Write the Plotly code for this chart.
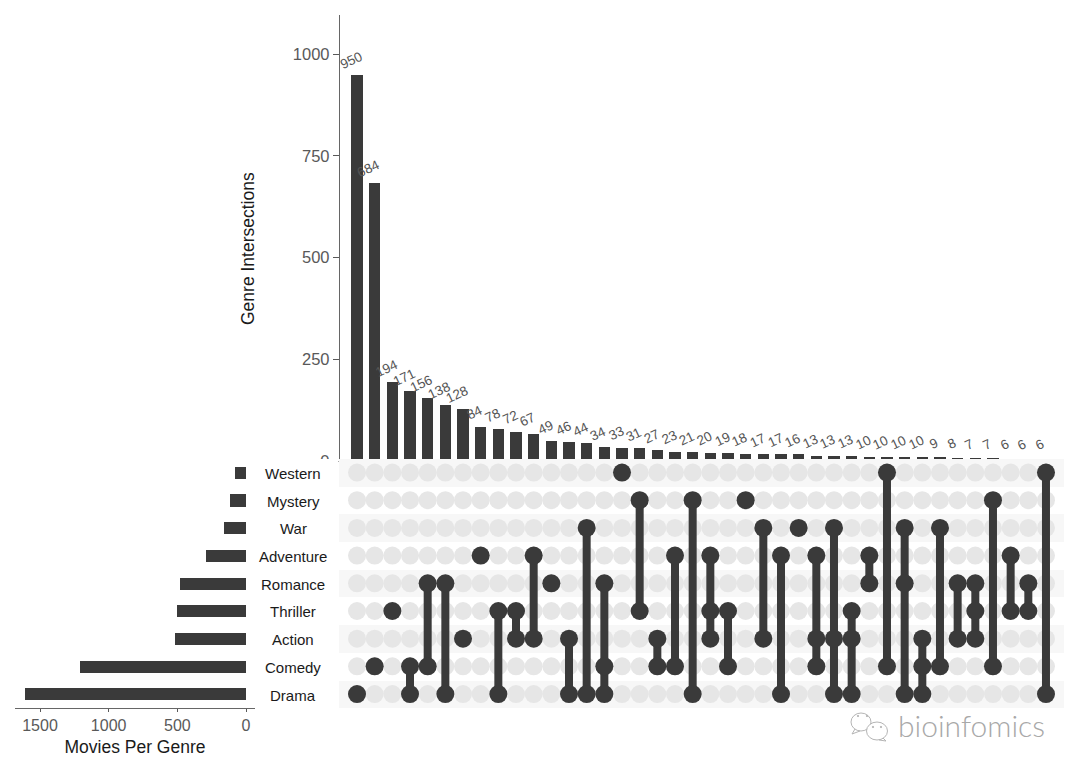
import plotly.graph_objects as go

W, H = 1080, 772

genres = ["Drama", "Comedy", "Action", "Thriller", "Romance", "Adventure", "War", "Mystery", "Western"]
genre_totals = [1611, 1207, 517, 505, 480, 294, 160, 116, 80]
striped_genres = ["Drama", "Action", "Romance", "War", "Western"]

intersection_sizes = [950, 684, 194, 171, 156, 138, 128, 84, 78, 72, 67, 49, 46, 44, 34, 33, 31, 27, 23, 21,
                      20, 19, 18, 17, 17, 16, 13, 13, 13, 10, 10, 10, 10, 9, 8, 7, 7, 6, 6, 6]
intersection_sets = [
    ["Drama"], ["Comedy"], ["Thriller"], ["Comedy", "Drama"], ["Romance", "Comedy"],
    ["Romance", "Drama"], ["Action"], ["Adventure"], ["Thriller", "Drama"], ["Thriller", "Action"],
    ["Adventure", "Action"], ["Romance"], ["Action", "Drama"], ["War", "Drama"],
    ["Romance", "Comedy", "Drama"], ["Western"], ["Mystery", "Thriller"], ["Action", "Comedy"],
    ["Adventure", "Comedy"], ["Mystery", "Drama"], ["Adventure", "Thriller", "Action"],
    ["Thriller", "Comedy"], ["Mystery"], ["War", "Action"], ["Adventure", "Drama"], ["War"],
    ["Adventure", "Action", "Comedy"], ["War", "Action", "Drama"], ["Thriller", "Action", "Drama"],
    ["Adventure", "Romance"], ["Western", "Comedy"], ["War", "Romance", "Drama"],
    ["Action", "Comedy", "Drama"], ["War", "Comedy"], ["Romance", "Action"],
    ["Romance", "Thriller", "Action"], ["Mystery", "Comedy"], ["Adventure", "Thriller"],
    ["Romance", "Thriller"], ["Western", "Drama"],
]

DARK = "#3a3a3a"
GREY_DOT = "#e6e6e6"
STRIPE = "#f7f7f7"
FONT = "Liberation Sans"
n = len(intersection_sizes)
columns = list(range(n))
x_range = [-1.02, n - 1 + 1.02]


def xdom(a, b):
    return [a / W, b / W]


def ydom(top, bottom):
    return [1 - bottom / H, 1 - top / H]


fig = go.Figure()

fig.add_trace(go.Bar(x=columns, y=intersection_sizes, width=0.64, marker=dict(color=DARK, line_width=0),
                     xaxis="x", yaxis="y", showlegend=False))

fig.add_trace(go.Bar(y=striped_genres, x=[x_range[1] - x_range[0]] * len(striped_genres), base=x_range[0],
                     orientation="h", width=1, marker=dict(color=STRIPE, line_width=0),
                     xaxis="x2", yaxis="y2", showlegend=False))

fig.add_trace(go.Scatter(x=[c for c in columns for _ in genres], y=[g for _ in columns for g in genres],
                         mode="markers", marker=dict(size=18, color=GREY_DOT), xaxis="x2", yaxis="y2",
                         showlegend=False))

lx, ly = [], []
for c, members in zip(columns, intersection_sets):
    ordered = sorted(members, key=genres.index)
    for g in ordered:
        lx.append(c)
        ly.append(g)
    lx.append(None)
    ly.append(None)
fig.add_trace(go.Scatter(x=lx, y=ly, mode="lines+markers", connectgaps=False,
                         line=dict(color=DARK, width=8), marker=dict(size=18, color=DARK),
                         xaxis="x2", yaxis="y2", showlegend=False))

fig.add_trace(go.Bar(y=genres, x=genre_totals, orientation="h", width=0.44,
                     marker=dict(color=DARK, line_width=0), xaxis="x3", yaxis="y3", showlegend=False))

annotations = []
for c, v in zip(columns, intersection_sizes):
    annotations.append(dict(x=c, y=v, xref="x", yref="y", text=str(v), showarrow=False, textangle=-25,
                            xshift=-6, yshift=14, font=dict(family=FONT, size=13.5, color="#555555")))
for g in genres:
    annotations.append(dict(x=293 / W, y=g, xref="paper", yref="y3", text=g, showarrow=False, xanchor="center",
                            yshift=-1, font=dict(family=FONT, size=15, color="#1a1a1a")))
annotations.append(dict(x=248 / W, y=1 - 249 / H, xref="paper", yref="paper", text="Genre Intersections",
                        showarrow=False, textangle=-90, xanchor="center", yanchor="middle",
                        font=dict(family=FONT, size=17.5, color="#1a1a1a")))
annotations.append(dict(x=896 / W, y=1 - 725 / H, xref="paper", yref="paper", text="bioinfomics", showarrow=False,
                        xanchor="left", yanchor="middle", font=dict(family="Lato", size=30, color="#a8a8a8", weight=300)))

ICON = "#b5b5b5"


def px_ellipse(cx, cy, rx, ry, fill="white"):
    return dict(type="circle", xref="paper", yref="paper", x0=(cx - rx) / W, x1=(cx + rx) / W,
                y0=1 - (cy + ry) / H, y1=1 - (cy - ry) / H, layer="above",
                line=dict(color=ICON, width=1), fillcolor=fill)


def px_line(x0, y0, x1, y1):
    return dict(type="line", xref="paper", yref="paper", x0=x0 / W, x1=x1 / W, y0=1 - y0 / H, y1=1 - y1 / H,
                layer="above", line=dict(color=ICON, width=1))


shapes = [
    dict(type="rect", xref="paper", yref="paper", x0=320 / W, x1=338.5 / W, y0=1 - 470 / H, y1=1 - 459 / H,
         layer="above", line_width=0, fillcolor="white"),
    px_ellipse(861, 722, 10, 9),
    px_line(855, 729, 852, 734),
    px_line(852, 734, 860, 731),
    px_ellipse(877, 731, 10.5, 9),
    px_line(883, 738, 886, 741),
    px_line(886, 741, 879, 740),
    px_ellipse(858, 716, 0.7, 0.7, ICON),
    px_ellipse(867, 716, 0.7, 0.7, ICON),
    px_ellipse(873, 727, 0.7, 0.7, ICON),
    px_ellipse(881, 727, 0.7, 0.7, ICON),
]

axis_common = dict(showgrid=False, zeroline=False)
tick_color = "#595959"
fig.update_layout(
    width=W, height=H, autosize=False, margin=dict(l=0, r=0, t=0, b=0),
    paper_bgcolor="white", plot_bgcolor="rgba(0,0,0,0)", bargap=0, barmode="overlay",
    font=dict(family=FONT),
    annotations=annotations, shapes=shapes,
    xaxis=dict(domain=xdom(339, 1064), range=x_range, visible=False, **axis_common),
    yaxis=dict(domain=ydom(15, 461), range=[0, 1096.6], anchor="free", position=339 / W,
               tickvals=[0, 250, 500, 750, 1000], ticks="outside", ticklen=6, tickwidth=1.3, tickcolor=tick_color,
               showline=True, linecolor="#666666", linewidth=1.3,
               tickfont=dict(family=FONT, size=16.5, color=tick_color),
               automargin=False, **axis_common),
    xaxis2=dict(domain=xdom(339, 1064), range=x_range, visible=False, **axis_common),
    yaxis2=dict(domain=ydom(458.7, 707.9), type="category", categoryorder="array", categoryarray=genres,
                range=[-0.5, len(genres) - 0.5], visible=False, anchor="x2", **axis_common),
    xaxis3=dict(domain=xdom(15, 255), range=[1682, -65.5], anchor="y3",
                tickvals=[0, 500, 1000, 1500], ticks="outside", ticklen=3, tickwidth=1.3, tickcolor=tick_color,
                showline=True, linecolor="#666666", linewidth=1.3,
                tickfont=dict(family=FONT, size=16, color=tick_color),
                title=dict(text="Movies Per Genre", standoff=7, font=dict(family=FONT, size=17.5, color="#1a1a1a")),
                automargin=False, **axis_common),
    yaxis3=dict(domain=ydom(458.7, 707.9), type="category", categoryorder="array", categoryarray=genres,
                range=[-0.5, len(genres) - 0.5], visible=False, anchor="x3", **axis_common),
)

fig.write_html("out.html", config={"displayModeBar": False}, post_script="document.body.style.margin='0';")
